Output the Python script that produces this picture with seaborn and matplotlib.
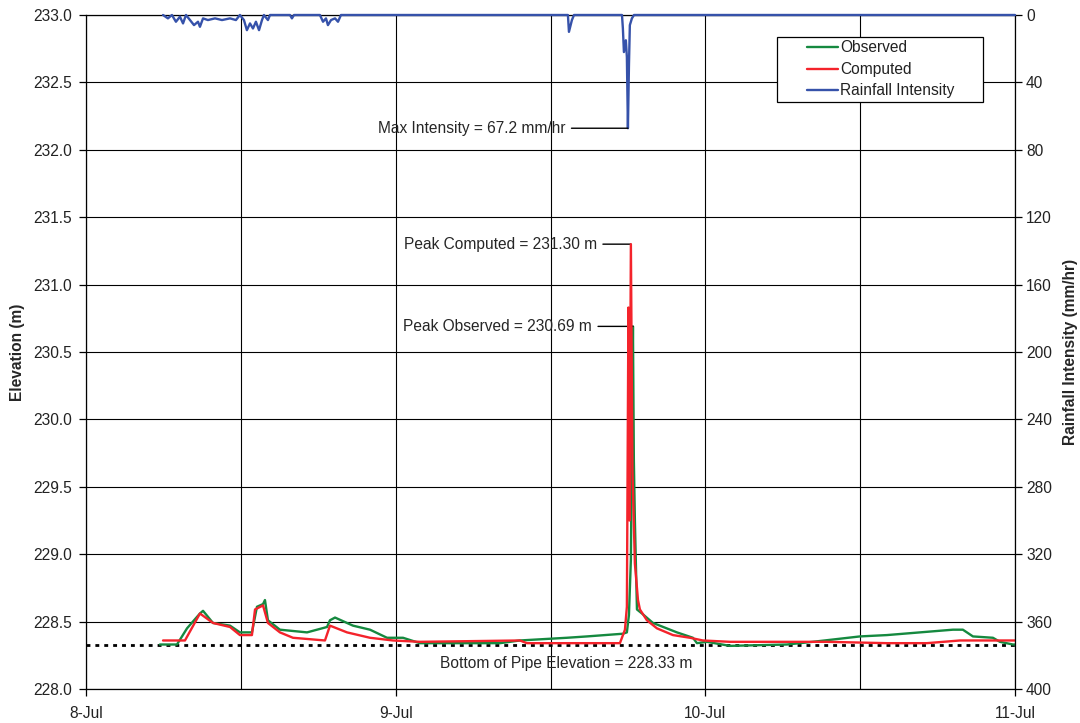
import numpy as np
import pandas as pd
import matplotlib
matplotlib.use("Agg")
import matplotlib.pyplot as plt
from matplotlib.lines import Line2D
from matplotlib.legend_handler import HandlerLine2D
from matplotlib.ticker import FormatStrFormatter
import matplotlib.dates as mdates
import seaborn as sns

# Time axis: hours after midnight on 8 July
obs_hours = [5.73, 7.05, 7.83, 8.83, 9.07, 9.84, 11.16, 11.93, 12.86, 13.25,
             13.72, 13.87, 14.10, 15.03, 17.13, 18.68, 18.91, 19.30, 20.69, 22.01,
             23.33, 24.57, 25.88, 28.21, 32.08, 33.63, 37.27, 38.82, 41.61, 41.92,
             42.08, 42.23, 42.39, 42.46, 42.54, 42.70, 43.09, 43.94, 45.80, 47.04,
             47.35, 48.12, 49.90, 54.32, 56.33, 59.98, 62.07, 64.63, 67.19, 67.96,
             68.74, 70.29, 70.83, 71.84, 72.0]
obs_elev = [228.33, 228.33, 228.45, 228.56, 228.58, 228.49, 228.47, 228.42, 228.42, 228.61,
            228.63, 228.66, 228.51, 228.44, 228.42, 228.46, 228.51, 228.53, 228.47, 228.44,
            228.38, 228.38, 228.34, 228.34, 228.34, 228.36, 228.38, 228.39, 228.41, 228.42,
            228.55, 228.96, 230.69, 229.70, 229.25, 228.59, 228.56, 228.49, 228.42, 228.38,
            228.34, 228.35, 228.32, 228.33, 228.35, 228.39, 228.40, 228.42, 228.44, 228.44,
            228.39, 228.38, 228.35, 228.33, 228.33]

comp_hours = [5.97, 7.67, 8.83, 9.84, 11.16, 11.93, 12.86, 13.10, 13.72, 14.10,
              15.03, 16.04, 18.52, 18.91, 20.23, 22.01, 23.79, 25.88, 33.63, 34.17,
              41.38, 41.77, 41.92, 42.04, 42.12, 42.23, 42.35, 42.54, 42.78, 42.93,
              43.47, 44.25, 45.49, 46.81, 47.81, 49.90, 57.42, 62.07, 65.17, 67.73,
              72.0]
comp_elev = [228.36, 228.36, 228.56, 228.49, 228.46, 228.40, 228.40, 228.59, 228.62, 228.49,
             228.42, 228.38, 228.36, 228.47, 228.42, 228.38, 228.36, 228.35, 228.36, 228.34,
             228.34, 228.44, 228.61, 230.83, 229.25, 231.30, 229.62, 228.93, 228.66, 228.59,
             228.51, 228.45, 228.40, 228.38, 228.36, 228.35, 228.35, 228.34, 228.34, 228.36,
             228.36]

rain_hours = [5.97, 6.35, 6.66, 6.97, 7.28, 7.52, 7.75, 8.06, 8.37, 8.68,
              8.83, 9.07, 9.45, 10.0, 10.54, 11.16, 11.62, 11.93, 12.24, 12.47,
              12.71, 12.94, 13.17, 13.41, 13.64, 13.79, 14.10, 14.26, 15.81, 15.96,
              16.12, 18.13, 18.37, 18.60, 18.75, 18.99, 19.30, 19.53, 19.76, 37.35,
              37.43, 37.66, 37.82, 41.54, 41.61, 41.69, 41.84, 41.92, 42.00, 42.08,
              42.15, 42.31, 42.47, 72.0]
rain_mmhr = [0, 2, 0, 4, 1, 5, 0, 3, 6, 4,
             7, 2, 3, 2, 3, 2, 3, 0, 3, 9,
             5, 8, 4, 9, 3, 0, 3, 0, 0, 2,
             0, 0, 4, 2, 6, 3, 2, 4, 0, 0,
             10, 3, 0, 0, 8, 22, 15, 25, 67.2, 30,
             6, 2, 0, 0]

pipe_elev = 228.33
day_hours = [0, 24, 48, 72]
day_labels = ["8-Jul", "9-Jul", "10-Jul", "11-Jul"]
elev_ticks = [228.0, 228.5, 229.0, 229.5, 230.0, 230.5, 231.0, 231.5, 232.0, 232.5, 233.0]
rain_ticks = [0, 40, 80, 120, 160, 200, 240, 280, 320, 360, 400]

GREEN = "#15893f"
RED = "#f4232b"
BLUE = "#3652aa"

sns.set_style("white")
plt.rcParams["font.family"] = ["Liberation Sans", "DejaVu Sans"]
plt.rcParams["font.size"] = 11.2

start = pd.Timestamp("2008-07-08")


def to_time(hours):
    return start + pd.to_timedelta(np.asarray(hours, dtype=float), unit="h")


obs = pd.DataFrame({"time": to_time(obs_hours), "elev": obs_elev})
comp = pd.DataFrame({"time": to_time(comp_hours), "elev": comp_elev})
rain = pd.DataFrame({"time": to_time(rain_hours), "mmhr": rain_mmhr})

fig = plt.figure(figsize=(10.8, 7.23), dpi=100)
ax = fig.add_axes([86 / 1080, 1 - 689 / 723, 929 / 1080, 674 / 723])
ax2 = ax.twinx()

ax.axhline(pipe_elev, color="black", lw=2.0, ls=(0, (1.4, 1.8)), zorder=2.5)
sns.lineplot(data=obs, x="time", y="elev", ax=ax, color=GREEN, lw=1.7,
             label="Observed", zorder=3)
sns.lineplot(data=comp, x="time", y="elev", ax=ax, color=RED, lw=1.7,
             label="Computed", zorder=4)
sns.lineplot(data=rain, x="time", y="mmhr", ax=ax2, color=BLUE, lw=1.7,
             label="Rainfall Intensity", zorder=3, clip_on=False)

# Axes limits and ticks
ax.set_xlim(to_time([0])[0], to_time([72])[0])
ax.set_ylim(228.0, 233.0)
ax2.set_ylim(400, 0)
ax.set_xticks(to_time(day_hours))
ax.set_xticklabels(day_labels)
ax.xaxis.set_minor_locator(mdates.HourLocator(byhour=[12]))
ax.set_yticks(elev_ticks)
ax.yaxis.set_major_formatter(FormatStrFormatter("%.1f"))
ax2.set_yticks(rain_ticks)

ax.grid(True, which="both", axis="x", color="black", lw=0.8)
ax.grid(True, which="major", axis="y", color="black", lw=0.8)
ax2.grid(False)
ax.set_axisbelow(True)

ax.tick_params(axis="both", which="major", direction="out", length=5, width=0.9,
               color="black", labelsize=11.2, labelcolor="#222222",
               bottom=True, left=True)
ax.tick_params(axis="x", which="major", pad=7)
ax.tick_params(axis="y", which="major", pad=5)
ax.tick_params(axis="x", which="minor", length=0)
ax2.tick_params(axis="y", direction="out", length=5, width=0.9, color="black",
                labelsize=11.2, labelcolor="#222222", right=True, pad=3)

for name, sp in ax.spines.items():
    sp.set_color("black")
    sp.set_linewidth(0.9)
ax.spines["right"].set_visible(False)
for name in ["top", "left", "bottom"]:
    ax2.spines[name].set_visible(False)
ax2.spines["right"].set_color("black")
ax2.spines["right"].set_linewidth(0.9)

ax.set_xlabel("")
ax2.set_xlabel("")
ax.set_ylabel("Elevation (m)", fontweight="bold", fontsize=11.2)
ax2.set_ylabel("Rainfall Intensity (mm/hr)", fontweight="bold", fontsize=11.2)
ax.yaxis.set_label_coords(-0.066, 0.5)
ax2.yaxis.set_label_coords(1.052, 0.5)

# Peak annotations with horizontal leader lines
leader = dict(arrowstyle="-", color="black", lw=1.0, shrinkA=2, shrinkB=0)

i_rain = int(np.argmax(rain_mmhr))
ax2.annotate(f"Max Intensity = {rain_mmhr[i_rain]:.1f} mm/hr",
             xy=(rain["time"][i_rain], rain_mmhr[i_rain]), xytext=(-45, 0),
             textcoords="offset points", ha="right", va="center",
             fontsize=11.2, arrowprops=leader)

i_comp = int(np.argmax(comp_elev))
ax.annotate(f"Peak Computed = {comp_elev[i_comp]:.2f} m",
            xy=(comp["time"][i_comp], comp_elev[i_comp]), xytext=(-24.5, 0),
            textcoords="offset points", ha="right", va="center",
            fontsize=11.2, arrowprops=leader)

i_obs = int(np.argmax(obs_elev))
ax.annotate(f"Peak Observed = {obs_elev[i_obs]:.2f} m",
            xy=(obs["time"][i_obs], obs_elev[i_obs]), xytext=(-29.5, 0),
            textcoords="offset points", ha="right", va="center",
            fontsize=11.2, arrowprops=leader)

ax.annotate(f"Bottom of Pipe Elevation = {pipe_elev:.2f} m",
            xy=(to_time([37.2])[0], pipe_elev), xytext=(0, -13.7),
            textcoords="offset points", ha="center", va="center", fontsize=11.2)

# Combined legend
if ax.get_legend() is not None:
    ax.get_legend().remove()
h1, l1 = ax.get_legend_handles_labels()
h2, l2 = ax2.get_legend_handles_labels()
leg = ax2.legend(h1 + h2, l1 + l2, loc="upper left",
                 bbox_to_anchor=((777 - 86) / 929, (689 - 104) / 674, 206 / 929, 67 / 674),
                 mode="expand", borderaxespad=0, frameon=True, fancybox=False,
                 edgecolor="black", framealpha=1, borderpad=0.22, labelspacing=0.42,
                 handlelength=3.7, handletextpad=0.15, fontsize=11.2,
                 handler_map={Line2D: HandlerLine2D(xpad=1.7)})
leg.get_frame().set_linewidth(0.9)
for t in leg.get_texts():
    t.set_color("#222222")

fig.savefig("out.png", dpi=100, facecolor="white")
